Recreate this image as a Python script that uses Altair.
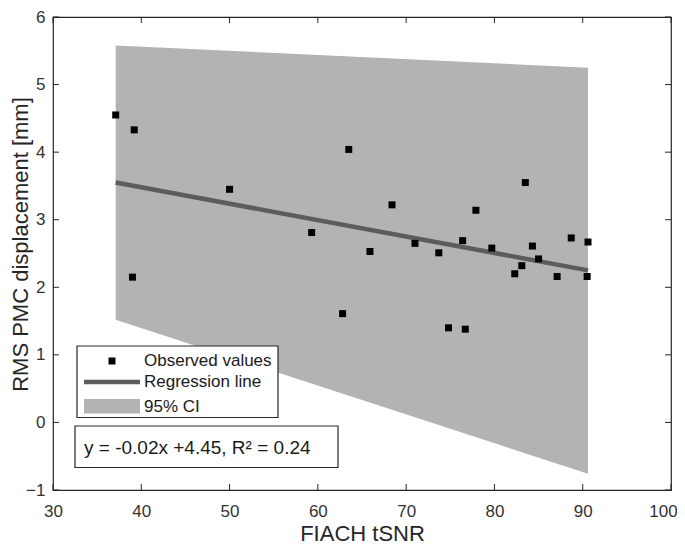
import altair as alt
import pandas as pd

# Observed values
tsnr = [37.1, 39.0, 39.2, 50.0, 59.3, 62.8, 63.5, 65.9, 68.4, 71.0, 73.7, 74.8, 76.4,
        76.7, 77.9, 79.7, 82.3, 83.1, 83.5, 84.3, 85.0, 87.1, 88.7, 90.5, 90.6]
rms = [4.55, 2.15, 4.33, 3.45, 2.81, 1.61, 4.04, 2.53, 3.22, 2.65, 2.51, 1.40, 2.69,
       1.38, 3.14, 2.58, 2.20, 2.32, 3.55, 2.61, 2.42, 2.16, 2.73, 2.16, 2.67]

# Regression line and 95% CI band
fit_x = [37.1, 90.6]
fit_y = [3.55, 2.25]
ci_lo = [1.52, -0.76]
ci_hi = [5.58, 5.25]

x_ticks = [30, 40, 50, 60, 70, 80, 90, 100]
y_ticks = [-1, 0, 1, 2, 3, 4, 5, 6]

W, H = 618, 473
FONT = "Liberation Sans"
AX = "#262626"

xs = alt.Scale(domain=[30, 100], nice=False)
ys = alt.Scale(domain=[-1, 6], nice=False)

obs = pd.DataFrame({"x": tsnr, "y": rms})
fit = pd.DataFrame({"x": fit_x, "y": fit_y, "lo": ci_lo, "hi": ci_hi})
xt = pd.DataFrame({"v": x_ticks})
yt = pd.DataFrame({"v": y_ticks})
one = pd.DataFrame({"a": [0]})

band = alt.Chart(fit).mark_area(color="#b3b3b3", opacity=1).encode(
    x=alt.X("x:Q", scale=xs,
            axis=alt.Axis(values=x_ticks, format="d", title="FIACH tSNR", grid=False,
                          ticks=False, domain=False, labelPadding=13, labelFlush=False,
                          labelOffset=alt.expr("datum.value == 100 ? -8 : 0"),
                          titleY=43, titleBaseline="middle", titleFontSize=22)),
    y=alt.Y("lo:Q", scale=ys,
            axis=alt.Axis(values=y_ticks, format="d", title="RMS PMC displacement [mm]",
                          grid=False, ticks=False, domain=False, labelPadding=8,
                          labelFlush=False, titleFontSize=22,
                          titleX=-33, titleY=227, titleAngle=-90,
                          titleAlign="center", titleBaseline="middle")),
    y2="hi:Q",
)

line = alt.Chart(fit).mark_line(color="#5c5c5c", strokeWidth=4.5).encode(
    x=alt.X("x:Q", scale=xs), y=alt.Y("y:Q", scale=ys))

pts = alt.Chart(obs).mark_square(color="black", size=49, opacity=1).encode(
    x=alt.X("x:Q", scale=xs), y=alt.Y("y:Q", scale=ys))

# inward ticks on four sides
tb = alt.Chart(xt).mark_rule(color=AX, strokeWidth=1).encode(
    x=alt.X("v:Q", scale=xs), y=alt.value(H), y2=alt.value(H - 6))
tt = alt.Chart(xt).mark_rule(color=AX, strokeWidth=1).encode(
    x=alt.X("v:Q", scale=xs), y=alt.value(0), y2=alt.value(6))
tl = alt.Chart(yt).mark_rule(color=AX, strokeWidth=1).encode(
    y=alt.Y("v:Q", scale=ys), x=alt.value(0), x2=alt.value(6))
tr = alt.Chart(yt).mark_rule(color=AX, strokeWidth=1).encode(
    y=alt.Y("v:Q", scale=ys), x=alt.value(W), x2=alt.value(W - 6))

# legend box
leg_box = alt.Chart(one).mark_rect(fill="white", stroke=AX, strokeWidth=1.2).encode(
    x=alt.value(24), x2=alt.value(225), y=alt.value(329), y2=alt.value(400.5))
leg_pt = alt.Chart(one).mark_square(color="black", size=49, opacity=1).encode(
    x=alt.value(59), y=alt.value(344))
leg_ln = alt.Chart(one).mark_rule(color="#5c5c5c", strokeWidth=4.5).encode(
    x=alt.value(31), x2=alt.value(87), y=alt.value(365))
leg_patch = alt.Chart(one).mark_rect(fill="#b3b3b3").encode(
    x=alt.value(31), x2=alt.value(87), y=alt.value(382), y2=alt.value(396.5))
leg_labels = ["Observed values", "Regression line", "95% CI"]
leg_y = [344, 365, 390]
leg_txt = alt.layer(*[
    alt.Chart(one).mark_text(text=t, align="left", baseline="middle", font=FONT,
                             fontSize=17, color="#1a1a1a").encode(
        x=alt.value(91), y=alt.value(yy))
    for t, yy in zip(leg_labels, leg_y)])

eq_box = alt.Chart(one).mark_rect(fill="white", stroke=AX, strokeWidth=1.2).encode(
    x=alt.value(22), x2=alt.value(285), y=alt.value(409), y2=alt.value(450.5))
eq_txt = alt.Chart(one).mark_text(text="y = -0.02x +4.45, R² = 0.24", align="left",
                                  baseline="middle", font=FONT, fontSize=19,
                                  color="#1a1a1a").encode(
    x=alt.value(31), y=alt.value(431))

chart = alt.layer(band, line, pts, tb, tt, tl, tr, leg_box, leg_pt, leg_ln, leg_patch,
                  leg_txt, eq_box, eq_txt).properties(
    width=W, height=H,
    autosize=alt.AutoSizeParams(type="none"),
    padding={"left": 45, "top": 9, "right": 6, "bottom": 55},
).configure_view(stroke=AX, strokeWidth=1.2).configure_axis(
    labelFont=FONT, titleFont=FONT, labelFontSize=17,
    labelColor="#333333", titleColor="#262626", titleFontWeight="normal",
)

chart.save("out.html", embed_options={"renderer": "svg", "actions": False})
